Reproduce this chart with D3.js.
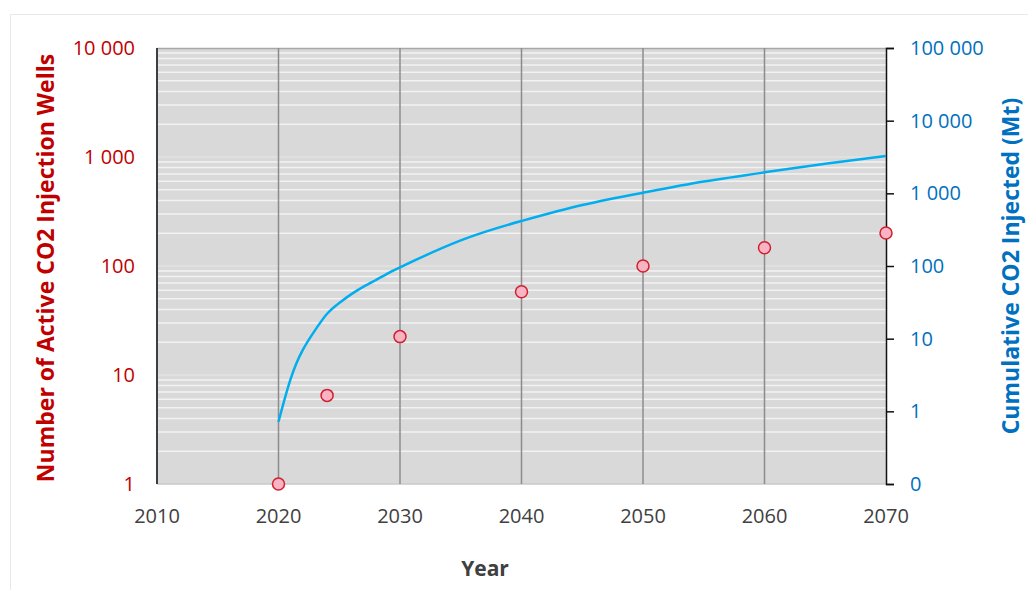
<!DOCTYPE html>
<html>
<head>
<meta charset="utf-8">
<script src="https://cdn.jsdelivr.net/npm/d3@7"></script>
<style>
  body { margin: 0; background: #fff; }
  svg text { font-family: "Open Sans", Lato, sans-serif; }
</style>
</head>
<body>
<div id="chart"></div>
<script>
// wells (left axis)
const wellYears = [2020, 2024, 2030, 2040, 2050, 2060, 2070];
const wellCounts = [1, 6.5, 22.5, 58, 100, 147, 201];

// cumulative CO2 injected, Mt (right axis)
const co2Years = [2020, 2021, 2022, 2023, 2024, 2025, 2026, 2027, 2028, 2029, 2030, 2035, 2040, 2045, 2050, 2055, 2060, 2065, 2070];
const co2Mt = [0.72, 2.8, 7, 13, 22, 31, 41, 52, 64, 79, 96, 225, 416, 690, 1020, 1450, 1946, 2550, 3264];

const xTicks = [2010, 2020, 2030, 2040, 2050, 2060, 2070];
const leftTicks = [1, 10, 100, 1000, 10000];
const rightTicks = [0.1, 1, 10, 100, 1000, 10000, 100000];

const width = 1028, height = 590;
const m = {left: 157, right: 886, top: 48, bottom: 484};

const loc = d3.formatLocale({decimal: ".", thousands: "\u202f", grouping: [3], currency: ["", ""]});
const fmt = v => v < 1 ? "0" : loc.format(",")(v).replace(/\u202f/g, " ");

let svg = d3.select('#chart').append('svg')
  .attr('width', width)
  .attr('height', height);

// outer frame
svg.append('rect')
  .attr('x', 10.5).attr('y', 14.5)
  .attr('width', width).attr('height', height)
  .attr('fill', 'none').attr('stroke', '#e8e8e8');

let x = d3.scaleLinear().domain([2010, 2070]).range([m.left, m.right]);
let yL = d3.scaleLog().domain([1, 10000]).range([m.bottom, m.top]);
let yR = d3.scaleLog().domain([0.1, 100000]).range([m.bottom, m.top]);

// plot background
svg.append('rect')
  .attr('x', m.left).attr('y', m.top)
  .attr('width', m.right - m.left).attr('height', m.bottom - m.top)
  .attr('fill', '#d9d9d9');

// minor gridlines (left log axis)
let minor = [];
for (let p = 1; p < 10000; p *= 10) {
  for (let k = 2; k <= 9; k++) minor.push(p * k);
}
svg.append('g').selectAll('line')
  .data(minor)
  .enter().append('line')
  .attr('x1', m.left).attr('x2', m.right)
  .attr('y1', d => yL(d)).attr('y2', d => yL(d))
  .attr('stroke', '#f2f2f2').attr('stroke-width', 1.5);

// major gridlines
svg.append('g').selectAll('line')
  .data(leftTicks.slice(1, -1))
  .enter().append('line')
  .attr('x1', m.left).attr('x2', m.right)
  .attr('y1', d => yL(d)).attr('y2', d => yL(d))
  .attr('stroke', '#e2e2e2').attr('stroke-width', 1.5);

// top border
svg.append('line')
  .attr('x1', m.left).attr('x2', m.right)
  .attr('y1', m.top + 0.5).attr('y2', m.top + 0.5)
  .attr('stroke', '#a8a8a8').attr('stroke-width', 1.5);

// bottom edge
svg.append('line')
  .attr('x1', m.left).attr('x2', m.right)
  .attr('y1', m.bottom).attr('y2', m.bottom)
  .attr('stroke', '#c8c8c8').attr('stroke-width', 1.5);

// vertical gridlines
svg.append('g').selectAll('line')
  .data(xTicks.slice(1, -1))
  .enter().append('line')
  .attr('x1', d => x(d)).attr('x2', d => x(d))
  .attr('y1', m.top).attr('y2', m.bottom)
  .attr('stroke', '#8c8c8c').attr('stroke-width', 1.5);

// left axis line
svg.append('line')
  .attr('x1', m.left).attr('x2', m.left)
  .attr('y1', m.top).attr('y2', m.bottom)
  .attr('stroke', '#3a3f44').attr('stroke-width', 2);

// right axis
let rAxis = svg.append('g')
  .attr('transform', `translate(${m.right},0)`)
  .call(d3.axisRight(yR).tickValues(rightTicks).tickFormat(fmt).tickSize(8).tickPadding(16));
rAxis.select('.domain').attr('stroke', '#111').attr('stroke-width', 1.5);
rAxis.selectAll('.tick line').attr('stroke', '#111').attr('stroke-width', 1.5);
rAxis.selectAll('text')
  .attr('fill', '#0070c0')
  .style('font-family', '"Open Sans", sans-serif')
  .style('font-size', '20px');

// left tick labels
svg.append('g').selectAll('text')
  .data(leftTicks)
  .enter().append('text')
  .attr('x', 135)
  .attr('y', d => yL(d))
  .attr('dy', '0.35em')
  .attr('text-anchor', 'end')
  .attr('fill', '#c00000')
  .style('font-size', '20px')
  .text(d => fmt(d));

// bottom tick labels
svg.append('g').selectAll('text')
  .data(xTicks)
  .enter().append('text')
  .attr('x', d => x(d))
  .attr('y', 523)
  .attr('text-anchor', 'middle')
  .attr('fill', '#404040')
  .style('font-size', '20px')
  .text(d => d);

// CO2 curve
let line = d3.line()
  .x((d, i) => x(co2Years[i]))
  .y(d => yR(d))
  .curve(d3.curveNatural);
svg.append('path')
  .datum(co2Mt)
  .attr('d', line)
  .attr('fill', 'none')
  .attr('stroke', '#00aeef')
  .attr('stroke-width', 2.5);

// wells points
svg.append('g').selectAll('circle')
  .data(wellCounts)
  .enter().append('circle')
  .attr('cx', (d, i) => x(wellYears[i]))
  .attr('cy', d => yL(d))
  .attr('r', 6)
  .attr('fill', '#f9b3c3')
  .attr('stroke', '#d0202f')
  .attr('stroke-width', 1.5);

// axis titles
svg.append('text')
  .attr('transform', `translate(54,268) rotate(-90)`)
  .attr('text-anchor', 'middle')
  .attr('fill', '#c00000')
  .style('font-size', '23px')
  .style('font-weight', 'bold')
  .text('Number of Active CO2 Injection Wells');

svg.append('text')
  .attr('transform', `translate(1019,266) rotate(-90)`)
  .attr('text-anchor', 'middle')
  .attr('fill', '#0070c0')
  .style('font-size', '23px')
  .style('font-weight', 'bold')
  .text('Cumulative CO2 Injected (Mt)');

svg.append('text')
  .attr('x', 485)
  .attr('y', 576)
  .attr('text-anchor', 'middle')
  .attr('fill', '#404040')
  .style('font-size', '21px')
  .style('font-weight', 'bold')
  .text('Year');
</script>
</body>
</html>
